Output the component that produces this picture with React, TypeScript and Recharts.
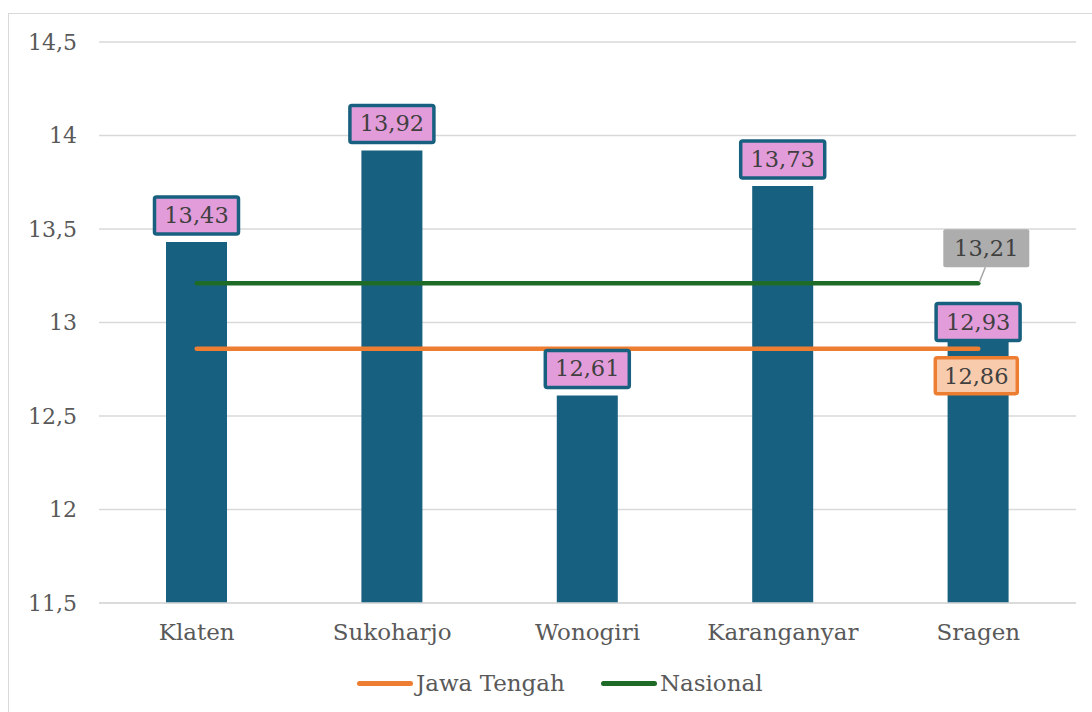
import {
  ComposedChart,
  Bar,
  Line,
  XAxis,
  YAxis,
  CartesianGrid,
  LabelList,
} from "recharts";

const kabupaten = ["Klaten", "Sukoharjo", "Wonogiri", "Karanganyar", "Sragen"];
const nilaiKab = [13.43, 13.92, 12.61, 13.73, 12.93];
const jawaTengah = [12.86, 12.86, 12.86, 12.86, 12.86];
const nasional = [13.21, 13.21, 13.21, 13.21, 13.21];
const yTicks = [11.5, 12, 12.5, 13, 13.5, 14, 14.5];

const data = kabupaten.map((name, i) => ({
  name,
  value: nilaiKab[i],
  jateng: jawaTengah[i],
  nasional: nasional[i],
}));

const FONT = "'DejaVu Serif', serif";
const BAR = "#18607F";
const ORANGE = "#ED7D31";
const GREEN = "#1E6B28";
const fmt = (v: number) => String(v).replace(".", ",");

function BarLabel(props: any) {
  const { x, y, width, value, index } = props;
  const cx = x + width / 2;
  const shift = index === 4 ? 13 : 0;
  const top = y - 45 + shift;
  return (
    <g>
      <rect x={cx - 42} y={top} width={84} height={37} rx={2} fill="#E39CDA" stroke={BAR} strokeWidth={3.5} />
      <text x={cx} y={top + 26} textAnchor="middle" fontFamily={FONT} fontSize={22.5} fill="#404040">
        {fmt(value)}
      </text>
    </g>
  );
}

function NasionalLabel(props: any) {
  const { x, y, value, index } = props;
  if (index !== kabupaten.length - 1) return null;
  const cx = x + 8;
  const top = y - 54;
  return (
    <g>
      <line x1={x + 1} y1={y - 1} x2={x + 7} y2={top + 38} stroke="#A6A6A6" strokeWidth={1.5} />
      <rect x={cx - 43} y={top} width={86} height={38} rx={2} fill="#ADADAD" />
      <text x={cx} y={top + 27} textAnchor="middle" fontFamily={FONT} fontSize={22.5} fill="#404040">
        {fmt(value)}
      </text>
    </g>
  );
}

function JatengLabel(props: any) {
  const { x, y, value, index } = props;
  if (index !== kabupaten.length - 1) return null;
  const cx = x - 2;
  const top = y + 9;
  return (
    <g>
      <rect x={cx - 41} y={top} width={82} height={36} rx={2} fill="#F8CBAD" stroke={ORANGE} strokeWidth={3.5} />
      <text x={cx} y={top + 26} textAnchor="middle" fontFamily={FONT} fontSize={22.5} fill="#404040">
        {fmt(value)}
      </text>
    </g>
  );
}

function LegendItem({ color, label }: { color: string; label: string }) {
  return (
    <div style={{ display: "flex", alignItems: "center", marginRight: 36 }}>
      <div style={{ width: 56, height: 5, borderRadius: 3, background: color, marginRight: 3 }} />
      <span>{label}</span>
    </div>
  );
}

export default function App() {
  return (
    <div style={{ position: "absolute", left: 0, top: 0, width: 1092, height: 712, background: "#fff", overflow: "hidden" }}>
      <div
        style={{
          position: "absolute",
          left: 8,
          top: 13,
          width: 1100,
          height: 720,
          borderLeft: "1px solid #d9d9d9",
          borderTop: "1px solid #d9d9d9",
        }}
      />
      <div style={{ position: "absolute", left: 0, top: 0 }}>
        <ComposedChart
          width={1092}
          height={712}
          data={data}
          margin={{ top: 42, right: 16, left: 8, bottom: 69 }}
        >
          <CartesianGrid vertical={false} stroke="#d9d9d9" strokeWidth={1.5} />
          <XAxis
            dataKey="name"
            height={40}
            axisLine={{ stroke: "#d9d9d9", strokeWidth: 1.5 }}
            tickLine={false}
            tickMargin={15}
            tick={{ fill: "#595959", fontFamily: FONT, fontSize: 23 }}
          />
          <YAxis
            width={91}
            domain={[11.5, 14.5]}
            ticks={yTicks}
            allowDataOverflow
            axisLine={false}
            tickLine={false}
            tickSize={0}
            tickMargin={22}
            tickFormatter={fmt}
            tick={{ fill: "#595959", fontFamily: FONT, fontSize: 22 }}
          />
          <Bar dataKey="value" fill={BAR} barSize={61} isAnimationActive={false}>
            <LabelList dataKey="value" content={BarLabel} />
          </Bar>
          <Line
            dataKey="jateng"
            stroke={ORANGE}
            strokeWidth={4.5}
            strokeLinecap="round"
            dot={false}
            activeDot={false}
            isAnimationActive={false}
          >
            <LabelList dataKey="jateng" content={JatengLabel} />
          </Line>
          <Line
            dataKey="nasional"
            stroke={GREEN}
            strokeWidth={4.5}
            strokeLinecap="round"
            dot={false}
            activeDot={false}
            isAnimationActive={false}
          >
            <LabelList dataKey="nasional" content={NasionalLabel} />
          </Line>
        </ComposedChart>
      </div>
      <div
        style={{
          position: "absolute",
          left: 357,
          top: 670,
          display: "flex",
          fontFamily: FONT,
          fontSize: 23,
          color: "#595959",
        }}
      >
        <LegendItem color={ORANGE} label="Jawa Tengah" />
        <LegendItem color={GREEN} label="Nasional" />
      </div>
    </div>
  );
}
